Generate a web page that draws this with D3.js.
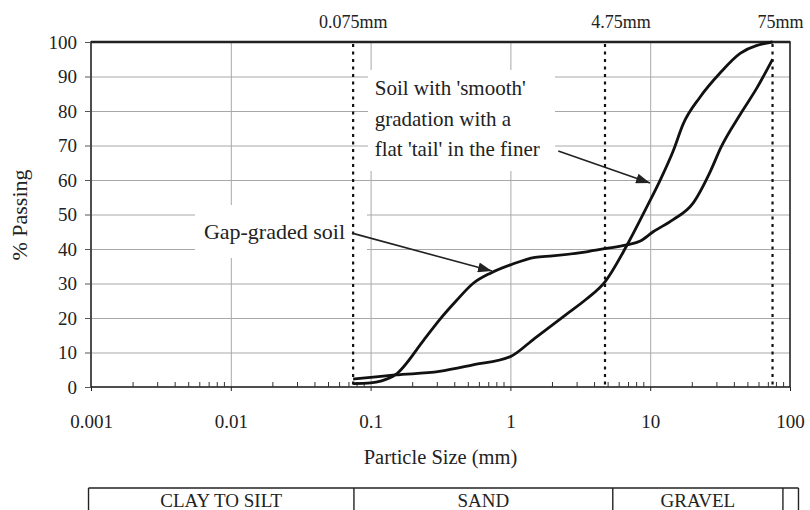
<!DOCTYPE html>
<html>
<head>
<meta charset="utf-8">
<script src="https://cdn.jsdelivr.net/npm/d3@7"></script>
<style>
  body { margin: 0; background: #fff; }
  svg { display: block; font-family: "Liberation Serif", "Times New Roman", serif; }
  .grid line { stroke: #a8a8a8; stroke-width: 1; }
  .grid path { display: none; }
  .lbl { font-size: 19px; fill: #222; font-family: "Liberation Serif", "Times New Roman", serif; }
  .note { font-size: 21px; }
</style>
</head>
<body>
<svg id="chart" width="810" height="510"></svg>
<script>
// particle size (mm) and % passing
const gapSize    = [0.075, 0.1, 0.12, 0.15, 0.24, 0.31, 0.41, 0.54, 0.72, 1.0, 1.5, 2.0, 3.5, 4.75, 6.8, 8.5, 10.5, 14.6, 20, 27, 32, 44, 58, 75];
const gapPassing = [1.0, 1.2, 1.8, 3.5, 13.6, 19.4, 25, 30, 33, 35.4, 37.6, 38, 39.2, 40.1, 41.2, 42.3, 45, 48.5, 53, 62.6, 69.4, 79, 86.7, 95];

const smoothSize    = [0.075, 0.1, 0.15, 0.31, 0.54, 1.0, 1.5, 2.5, 3.5, 4.75, 6.8, 9.4, 11.7, 14.6, 17.2, 22.7, 31.6, 44, 75];
const smoothPassing = [2.3, 2.8, 3.5, 4.5, 6.4, 8.8, 14.2, 21, 25.5, 30.5, 41, 52, 59.7, 68.4, 76.2, 84, 91, 96.7, 100];

const sieveSizes  = [0.075, 4.75, 75];
const sieveLabels = ["0.075mm", "4.75mm", "75mm"];

const xTicks = [0.001, 0.01, 0.1, 1, 10, 100];
const xTickLabels = ["0.001", "0.01", "0.1", "1", "10", "100"];
const yTicks = [0, 10, 20, 30, 40, 50, 60, 70, 80, 90, 100];

const soilClasses = ["CLAY TO SILT", "SAND", "GRAVEL", ""];
const classBounds = [0.00096, 0.076, 5.4, 89, 115];

const svg = d3.select("#chart");
const mLeft = 91, mRight = 790, mTop = 42, mBottom = 387;

const x = d3.scaleLog().domain([0.001, 100]).range([mLeft, mRight]);
const y = d3.scaleLinear().domain([0, 100]).range([mBottom, mTop]);

// grid
svg.append("g").attr("class", "grid")
    .attr("transform", `translate(0,${mBottom})`)
    .call(d3.axisBottom(x).tickValues(xTicks.slice(1, -1)).tickSize(-(mBottom - mTop)).tickFormat(""));
svg.append("g").attr("class", "grid")
    .attr("transform", `translate(${mLeft},0)`)
    .call(d3.axisLeft(y).tickValues(yTicks.slice(1, -1)).tickSize(-(mRight - mLeft)).tickFormat(""));

// white boxes behind annotations
svg.append("rect").attr("x", 368).attr("y", 70).attr("width", 187).attr("height", 101).attr("fill", "#fff");
svg.append("rect").attr("x", 195).attr("y", 205).attr("width", 172).attr("height", 53).attr("fill", "#fff");

// frame
svg.append("rect")
    .attr("x", mLeft).attr("y", mTop)
    .attr("width", mRight - mLeft).attr("height", mBottom - mTop)
    .attr("fill", "none").attr("stroke", "#222").attr("stroke-width", 1.6);
svg.append("line").attr("x1", mLeft).attr("x2", mRight).attr("y1", mTop).attr("y2", mTop)
    .attr("stroke", "#222").attr("stroke-width", 2.4);

// y axis ticks and labels
const yAxis = svg.append("g")
    .attr("transform", `translate(${mLeft},0)`)
    .call(d3.axisLeft(y).tickValues(yTicks).tickSize(6).tickPadding(8))
    .attr("font-family", null).attr("font-size", null);
yAxis.select(".domain").remove();
yAxis.selectAll("line").attr("stroke", "#555");
yAxis.selectAll("text").attr("class", "lbl").attr("fill", "#222");

// x axis labels
const xAxis = svg.append("g")
    .attr("transform", `translate(0,${mBottom})`)
    .call(d3.axisBottom(x).tickValues(xTicks).tickSize(4).tickPadding(24)
        .tickFormat((d, i) => xTickLabels[i]))
    .attr("font-family", null).attr("font-size", null);
xAxis.select(".domain").remove();
xAxis.selectAll("line").attr("stroke", "#222");
xAxis.selectAll("text").attr("class", "lbl").attr("fill", "#222");

// minor ticks
const minor = [];
for (let i = 0; i < xTicks.length - 1; i++) {
    for (let k = 2; k <= 9; k++) minor.push(xTicks[i] * k);
}
svg.append("g").selectAll("line")
    .data(minor)
    .join("line")
    .attr("x1", d => x(d)).attr("x2", d => x(d))
    .attr("y1", mBottom).attr("y2", mBottom - 5)
    .attr("stroke", "#333").attr("stroke-width", 1);

// sieve lines
svg.append("g").selectAll("line")
    .data(sieveSizes)
    .join("line")
    .attr("x1", d => x(d)).attr("x2", d => x(d))
    .attr("y1", mTop + 2).attr("y2", mBottom)
    .attr("stroke", "#111").attr("stroke-width", 2.2)
    .attr("stroke-dasharray", "3,4.5");

const labelShift = [0, 16, 8];
svg.append("g").selectAll("text")
    .data(sieveLabels)
    .join("text")
    .attr("class", "lbl")
    .attr("x", (d, i) => x(sieveSizes[i]) + labelShift[i])
    .attr("y", 28)
    .attr("text-anchor", "middle")
    .style("font-size", "18px")
    .text(d => d);

// curves
const line = d3.line()
    .x(d => x(d[0]))
    .y(d => y(d[1]))
    .curve(d3.curveMonotoneX);

[[gapSize, gapPassing], [smoothSize, smoothPassing]].forEach(([s, p]) => {
    svg.append("path")
        .datum(s.map((v, i) => [v, p[i]]))
        .attr("fill", "none")
        .attr("stroke", "#111")
        .attr("stroke-width", 2.8)
        .attr("stroke-linejoin", "round")
        .attr("d", line);
});

// annotations
svg.append("defs").append("marker")
    .attr("id", "arrow")
    .attr("viewBox", "0 0 14 10")
    .attr("refX", 14).attr("refY", 5)
    .attr("markerWidth", 14).attr("markerHeight", 10)
    .attr("markerUnits", "userSpaceOnUse")
    .attr("orient", "auto")
    .append("path").attr("d", "M0,0L14,5L0,10Z").attr("fill", "#222");

const smoothNote = ["Soil with 'smooth'", "gradation with a", "flat 'tail' in the finer"];
svg.append("g").selectAll("text")
    .data(smoothNote)
    .join("text")
    .attr("class", "lbl note")
    .attr("x", x(0.107))
    .attr("y", (d, i) => y(84.6) + i * 30.5)
    .text(d => d);

svg.append("text")
    .attr("class", "lbl note")
    .attr("x", x(0.0656)).attr("y", y(43.0))
    .attr("text-anchor", "end")
    .style("font-size", "22px")
    .text("Gap-graded soil");

[[[2.2, 68.4], [9.97, 59.1]], [[0.0736, 44.6], [0.738, 33.6]]].forEach(([a, b]) => {
    svg.append("line")
        .attr("x1", x(a[0])).attr("y1", y(a[1]))
        .attr("x2", x(b[0])).attr("y2", y(b[1]))
        .attr("stroke", "#222").attr("stroke-width", 1.6)
        .attr("marker-end", "url(#arrow)");
});

// axis titles
svg.append("text").attr("class", "lbl")
    .attr("x", (mLeft + mRight) / 2).attr("y", 464)
    .attr("text-anchor", "middle")
    .style("font-size", "20.5px")
    .text("Particle Size (mm)");
svg.append("text").attr("class", "lbl")
    .attr("transform", "translate(27,215) rotate(-90)")
    .attr("text-anchor", "middle")
    .style("font-size", "22px")
    .text("% Passing");

// soil classification strip
const strip = svg.append("g");
strip.append("line")
    .attr("x1", x(classBounds[0])).attr("x2", x(classBounds[classBounds.length - 1]))
    .attr("y1", 488).attr("y2", 488)
    .attr("stroke", "#222").attr("stroke-width", 1.6);
strip.selectAll(".div")
    .data(classBounds)
    .join("line")
    .attr("class", "div")
    .attr("x1", d => x(d)).attr("x2", d => x(d))
    .attr("y1", 488).attr("y2", 512)
    .attr("stroke", "#222").attr("stroke-width", 1.4);
strip.selectAll(".cls")
    .data(soilClasses)
    .join("text")
    .attr("class", "lbl cls")
    .attr("x", (d, i) => (x(classBounds[i]) + x(classBounds[i + 1])) / 2)
    .attr("y", 507)
    .attr("text-anchor", "middle")
    .text(d => d);
</script>
</body>
</html>
